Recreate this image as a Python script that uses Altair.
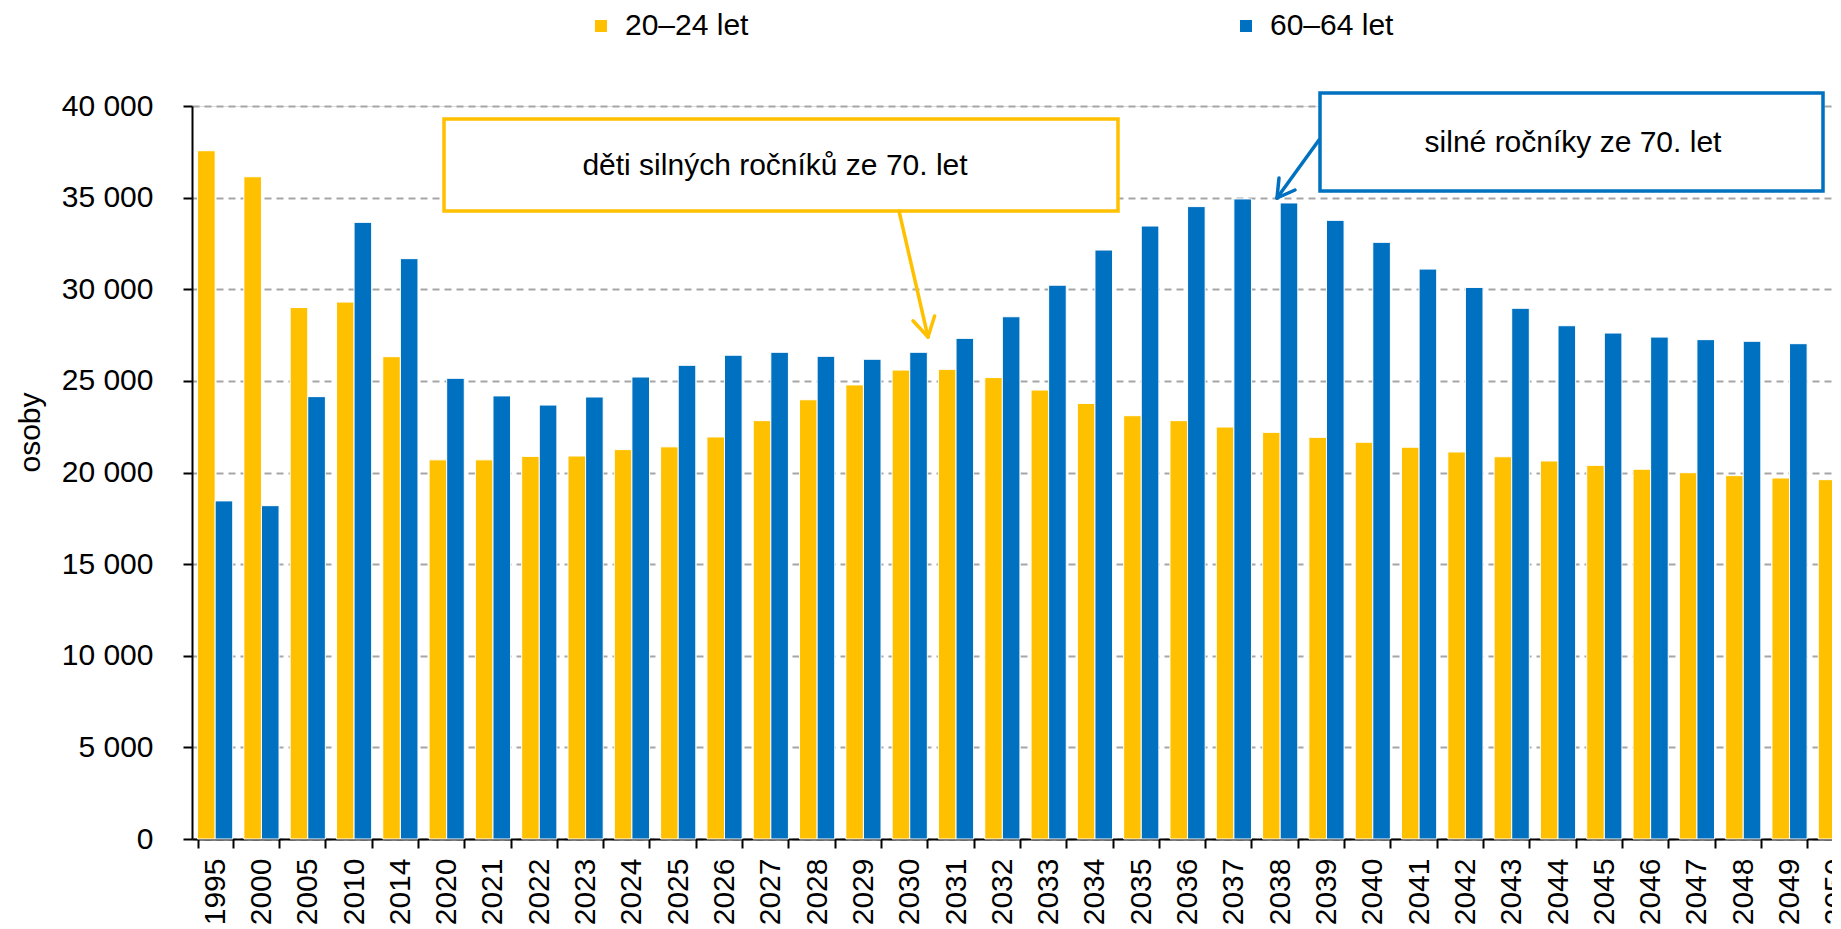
import altair as alt
import pandas as pd

# ---- data -------------------------------------------------------------
years = ["1995", "2000", "2005", "2010", "2014",
         "2020", "2021", "2022", "2023", "2024", "2025", "2026", "2027", "2028", "2029",
         "2030", "2031", "2032", "2033", "2034", "2035", "2036", "2037", "2038", "2039",
         "2040", "2041", "2042", "2043", "2044", "2045", "2046", "2047", "2048", "2049",
         "2050"]
groups = ["20–24 let", "60–64 let"]
colors = ["#FFC000", "#0070C0"]

young = [37560, 36140, 29000, 29300, 26320,
         20690, 20690, 20880, 20900, 21250, 21400, 21940, 22830, 23970, 24780,
         25590, 25630, 25180, 24500, 23770, 23100, 22830, 22480, 22190, 21920,
         21650, 21380, 21120, 20860, 20630, 20390, 20180, 19990, 19830, 19700,
         19610]
old = [18450, 18190, 24140, 33650, 31670,
       25140, 24180, 23680, 24120, 25210, 25850, 26400, 26560, 26340, 26180,
       26560, 27320, 28500, 30220, 32140, 33450, 34510, 34930, 34710, 33760,
       32560, 31100, 30100, 28960, 28010, 27610, 27390, 27250, 27160, 27030,
       26960]

note_texts = ["děti silných ročníků ze 70. let", "silné ročníky ze 70. let"]

FONT = "Liberation Sans"
FS = 30

rows = []
for i, yr in enumerate(years):
    rows.append({"rok": yr, "skupina": groups[0], "osoby": young[i]})
    rows.append({"rok": yr, "skupina": groups[1], "osoby": old[i]})
df = pd.DataFrame(rows)

bars = alt.Chart(df).mark_bar(stroke="white", strokeWidth=1).encode(
    x=alt.X("rok:N", sort=years, title=None,
            scale=alt.Scale(range=[0, 1667], paddingInner=0.24, paddingOuter=0.12),
            axis=alt.Axis(labelAngle=270, labelAlign="right", labelBaseline="middle",
                          labelPadding=10, labelFontSize=FS, labelFont=FONT, labelColor="black",
                          tickBand="extent", tickSize=9, tickColor="black", tickWidth=2,
                          domainColor="black", domainWidth=2, grid=False)),
    xOffset=alt.XOffset("skupina:N", sort=groups),
    y=alt.Y("osoby:Q", title="osoby",
            scale=alt.Scale(domain=[0, 40000], nice=False),
            axis=alt.Axis(values=[0, 5000, 10000, 15000, 20000, 25000, 30000, 35000, 40000],
                          labelExpr="replace(format(datum.value, ','), ',', ' ')",
                          labelFontSize=FS, labelFont=FONT, labelColor="black", labelPadding=30,
                          tickSize=9, tickColor="black", tickWidth=2,
                          domainColor="black", domainWidth=2,
                          grid=True, gridColor="#A6A6A6", gridDash=[7, 5], gridWidth=2,
                          titleFontSize=FS, titleFont=FONT, titleFontWeight="normal",
                          titleColor="black", titleAngle=270, titleX=-162, titleY=326,
                          titleAlign="center", titleBaseline="middle")),
    color=alt.Color("skupina:N", sort=groups,
                    scale=alt.Scale(domain=groups, range=colors),
                    legend=alt.Legend(title=None, orient="none", legendX=394, legendY=-95,
                                      direction="horizontal", columnPadding=482,
                                      symbolType="square", symbolSize=144, symbolStrokeWidth=0,
                                      labelFontSize=FS, labelFont=FONT, labelColor="black",
                                      labelOffset=9, padding=0)),
)

# ---- annotations (pixel positions relative to the plot area) ----------
boxes = pd.DataFrame({
    "x": [252, 1128], "x2": [926, 1631],
    "y": [13, -13], "y2": [105, 85],
    "c": colors,
})
box_layer = alt.Chart(boxes).mark_rect(fill="white", strokeWidth=3.5).encode(
    x=alt.X("x:Q", scale=None, axis=None), x2="x2:Q",
    y=alt.Y("y:Q", scale=None, axis=None), y2="y2:Q",
    stroke=alt.Stroke("c:N", scale=None, legend=None),
)

segs = pd.DataFrame({
    "x":  [707, 742.6, 721, 1127, 1103, 1087],
    "y":  [105, 210, 214.8, 34, 84, 72],
    "x2": [736, 736, 736, 1085, 1085, 1085],
    "y2": [231, 231, 231, 92, 92, 92],
    "c":  [colors[0]] * 3 + [colors[1]] * 3,
})
seg_layer = alt.Chart(segs).mark_rule(strokeWidth=3.5, strokeCap="round").encode(
    x=alt.X("x:Q", scale=None, axis=None), x2="x2:Q",
    y=alt.Y("y:Q", scale=None, axis=None), y2="y2:Q",
    color=alt.Color("c:N", scale=None, legend=None),
)

notes = pd.DataFrame({"x": [583, 1381], "y": [60, 37], "t": note_texts})
text_layer = alt.Chart(notes).mark_text(font=FONT, fontSize=FS, color="black",
                                        align="center", baseline="middle").encode(
    x=alt.X("x:Q", scale=None, axis=None),
    y=alt.Y("y:Q", scale=None, axis=None),
    text="t:N",
)

chart = alt.layer(bars, box_layer, seg_layer, text_layer).properties(
    width=1640, height=733,
    padding={"left": 184, "top": 98, "right": 0, "bottom": 86},
    autosize=alt.AutoSizeParams(type="none"),
).configure_view(stroke=None).configure(background="white")

chart.save("out.html", embed_options={"renderer": "svg", "actions": False})
